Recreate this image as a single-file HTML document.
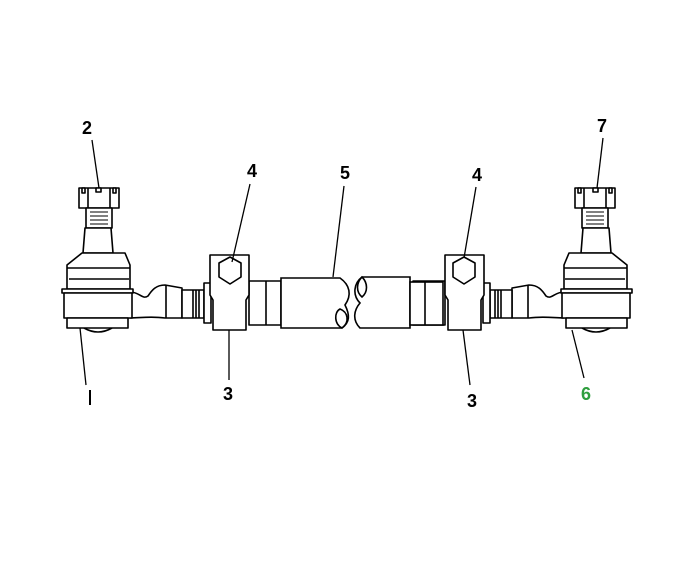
<!DOCTYPE html>
<html><head><style>
html,body{margin:0;padding:0;background:#fff;}
svg{display:block;}
text{font-family:"Liberation Sans",sans-serif;font-weight:bold;font-size:18px;}
</style></head><body>
<svg width="689" height="563" viewBox="0 0 689 563" xmlns="http://www.w3.org/2000/svg">
<defs>
<g id="end" fill="#fff" stroke="#000" stroke-width="1.6" stroke-linejoin="round">
  <!-- arm -->
  <path d="M130 292 C140 292 142 300 148 296 C152 290 156 285 165 285 L182 288 L182 318 L165 318 C150 316 140 318 130 318 Z"/>
  <line x1="166" y1="285" x2="166" y2="318"/>
  <rect x="182" y="290" width="22" height="28"/>
  <line x1="193" y1="290" x2="193" y2="318"/><line x1="196" y1="290" x2="196" y2="318"/><line x1="199" y1="290" x2="199" y2="318"/>
  <rect x="204" y="283" width="7" height="40"/>
  <!-- tube behind clamp -->
  <rect x="249" y="281" width="32" height="44"/>
  <line x1="266" y1="281" x2="266" y2="325"/>
  <!-- clamp -->
  <path d="M210 255 L249 255 L249 295 L246 300 L246 330 L213 330 L213 300 L210 295 Z"/>
  <polygon points="230,257 241,263 241,277 230,284 219,277 219,263"/>
  <!-- nut -->
  <rect x="79" y="188" width="40" height="20"/>
  <line x1="88" y1="188" x2="88" y2="208"/><line x1="110" y1="188" x2="110" y2="208"/>
  <rect x="96" y="188" width="5" height="4"/><rect x="82" y="188" width="3" height="5"/><rect x="113" y="188" width="3" height="5"/>
  <!-- thread -->
  <rect x="86" y="208" width="26" height="20"/>
  <line x1="90" y1="212" x2="108" y2="212" stroke-width="1"/><line x1="90" y1="216" x2="108" y2="216" stroke-width="1"/><line x1="90" y1="220" x2="108" y2="220" stroke-width="1"/><line x1="90" y1="224" x2="108" y2="224" stroke-width="1"/>
  <!-- neck -->
  <path d="M85 228 L111 228 L113 253 L83 253 Z"/>
  <!-- housing -->
  <path d="M82 253 L125 253 L130 265 L130 289 L67 289 L67 265 Z"/>
  <line x1="67" y1="268" x2="130" y2="268"/>
  <line x1="69" y1="279" x2="129" y2="279"/>
  <rect x="62" y="289" width="71" height="4"/>
  <!-- eye -->
  <path d="M64 293 L132 293 L132 318 L64 318 Z"/>
  <path d="M84 328 Q98 336 112 328"/>
  <rect x="67" y="318" width="61" height="10"/>
</g>
</defs>
<use href="#end"/>
<use href="#end" transform="translate(694,0) scale(-1,1)"/>
<g fill="#fff" stroke="#000" stroke-width="1.6">
  <path d="M281 278 L340 278 C350 285 352 295 345 305 C350 315 350 322 342 328 L281 328 Z"/>
  <path d="M340 309 C334 312 334 324 342 328 C350 322 348 312 340 309 Z"/>
  <path d="M362 277 L410 277 L410 328 L360 328 C352 320 354 310 360 303 C352 295 354 283 362 277 Z"/>
  <path d="M362 277 C356 283 356 292 362 297 C368 292 368 283 362 277 Z"/>
  <rect x="410" y="282" width="33" height="43"/>
  <line x1="425" y1="282" x2="425" y2="325"/>
</g>
<g stroke="#000" stroke-width="1.3" fill="none">
  <line x1="92" y1="140" x2="99" y2="188"/>
  <line x1="250" y1="184" x2="232" y2="262"/>
  <line x1="344" y1="186" x2="333" y2="277"/>
  <line x1="476" y1="187" x2="464" y2="258"/>
  <line x1="603" y1="138" x2="597" y2="188"/>
  <line x1="229" y1="330" x2="229" y2="380"/>
  <line x1="463" y1="330" x2="470" y2="385"/>
  <line x1="572" y1="330" x2="584" y2="378"/>
  <line x1="80" y1="328" x2="86" y2="385"/>
  <line x1="90" y1="390" x2="90" y2="405" stroke-width="2"/>
</g>
<text x="82" y="134">2</text>
<text x="247" y="177">4</text>
<text x="340" y="179">5</text>
<text x="472" y="181">4</text>
<text x="597" y="132">7</text>
<text x="223" y="400">3</text>
<text x="467" y="407">3</text>
<text x="581" y="400" fill="#2e9e3e">6</text>
</svg>
</body></html>
